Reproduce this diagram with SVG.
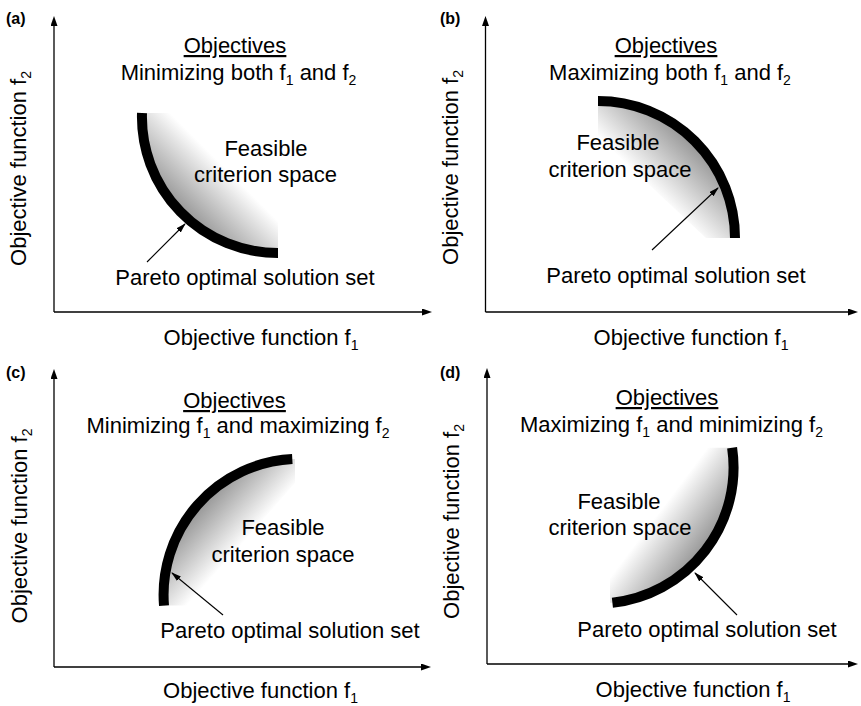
<svg xmlns="http://www.w3.org/2000/svg" width="861" height="706" viewBox="0 0 861 706">
<style>
text{font-family:"Liberation Sans",Arial,sans-serif;fill:#000}
.t{font-size:22px;text-anchor:middle}
.lbl{font-size:16px;font-weight:bold}
.u{text-decoration:underline}
.ax{stroke:#000;stroke-width:1.3;fill:none}
.ptr{stroke:#000;stroke-width:1.1;fill:none}
.band{stroke:#000;stroke-width:10;fill:none;stroke-linecap:butt}
</style>
<defs>
<marker id="axh" markerUnits="userSpaceOnUse" markerWidth="11" markerHeight="8" refX="1" refY="3.5" orient="auto"><path d="M0,0 L10,3.5 L0,7 Z" fill="#000"/></marker>
<marker id="ph" markerUnits="userSpaceOnUse" markerWidth="11" markerHeight="8" refX="9" refY="3" orient="auto"><path d="M0,0 L10,3 L0,6 Z" fill="#000"/></marker>
<linearGradient id="ga" gradientUnits="userSpaceOnUse" x1="185" y1="210" x2="226" y2="169"><stop offset="0" stop-color="#9c9c9c"/><stop offset="1" stop-color="#fff"/></linearGradient>
<linearGradient id="gb" gradientUnits="userSpaceOnUse" x1="691" y1="145" x2="649" y2="187"><stop offset="0" stop-color="#9c9c9c"/><stop offset="1" stop-color="#fff"/></linearGradient>
<linearGradient id="gc" gradientUnits="userSpaceOnUse" x1="201" y1="509" x2="241" y2="545"><stop offset="0" stop-color="#9c9c9c"/><stop offset="1" stop-color="#fff"/></linearGradient>
<linearGradient id="gd" gradientUnits="userSpaceOnUse" x1="701" y1="548" x2="657" y2="515"><stop offset="0" stop-color="#9c9c9c"/><stop offset="1" stop-color="#fff"/></linearGradient>
</defs>
<rect width="861" height="706" fill="#fff"/>

<g id="axes">
<path class="ax" d="M54,312 V25" marker-end="url(#axh)"/>
<path class="ax" d="M54,312 H423" marker-end="url(#axh)"/>
<path class="ax" d="M485.5,312 V25" marker-end="url(#axh)"/>
<path class="ax" d="M485.5,312 H849" marker-end="url(#axh)"/>
<path class="ax" d="M54,667 V378" marker-end="url(#axh)"/>
<path class="ax" d="M54,667 H422" marker-end="url(#axh)"/>
<path class="ax" d="M487,664 V377" marker-end="url(#axh)"/>
<path class="ax" d="M487,664 H849" marker-end="url(#axh)"/>
</g>

<g id="panel-a">
<text class="lbl" x="6" y="24">(a)</text>
<path d="M142,113 L170,113 L278,218 L278,253 A136,136 0 0 1 142,113 Z" fill="url(#ga)"/>
<path class="band" d="M142,113 A136,136 0 0 0 278,253"/>
<text class="t u" x="235" y="53">Objectives</text>
<text class="t" x="238.5" y="80">Minimizing both f<tspan dy="5" font-size="14">1</tspan><tspan dy="-5"> and f</tspan><tspan dy="5" font-size="14">2</tspan></text>
<text class="t" x="266" y="156">Feasible</text>
<text class="t" x="265.5" y="182">criterion space</text>
<text class="t" x="245" y="285">Pareto optimal solution set</text>
<text class="t" x="261" y="345">Objective function f<tspan dy="5" font-size="14">1</tspan></text>
<text class="t" x="26" y="168.5" transform="rotate(-90 26 168.5)">Objective function f<tspan dy="5" font-size="14">2</tspan></text>
</g>

<g id="panel-b">
<text class="lbl" x="440" y="24">(b)</text>
<path d="M598,101 A137,137 0 0 1 735,238 L706,238 L598,137 Z" fill="url(#gb)"/>
<path class="band" d="M598,101 A137,137 0 0 1 735,238"/>
<text class="t u" x="666" y="53">Objectives</text>
<text class="t" x="670" y="80">Maximizing both f<tspan dy="5" font-size="14">1</tspan><tspan dy="-5"> and f</tspan><tspan dy="5" font-size="14">2</tspan></text>
<text class="t" x="618" y="150">Feasible</text>
<text class="t" x="620" y="176.5">criterion space</text>
<text class="t" x="676" y="283">Pareto optimal solution set</text>
<text class="t" x="691" y="345">Objective function f<tspan dy="5" font-size="14">1</tspan></text>
<text class="t" x="458" y="167.5" transform="rotate(-90 458 167.5)">Objective function f<tspan dy="5" font-size="14">2</tspan></text>
</g>

<g id="panel-c">
<text class="lbl" x="6" y="378">(c)</text>
<path d="M164,605.6 A136,136 0 0 1 292.3,459 L295,459 L295,483 L188,605.6 Z" fill="url(#gc)"/>
<path class="band" d="M164,605.6 A136,136 0 0 1 292.3,459"/>
<text class="t u" x="234.5" y="408">Objectives</text>
<text class="t" x="238" y="433">Minimizing f<tspan dy="5" font-size="14">1</tspan><tspan dy="-5"> and maximizing f</tspan><tspan dy="5" font-size="14">2</tspan></text>
<text class="t" x="283" y="535">Feasible</text>
<text class="t" x="283" y="562">criterion space</text>
<text class="t" x="290" y="638">Pareto optimal solution set</text>
<text class="t" x="260.5" y="698">Objective function f<tspan dy="5" font-size="14">1</tspan></text>
<text class="t" x="27" y="526" transform="rotate(-90 27 526)">Objective function f<tspan dy="5" font-size="14">2</tspan></text>
</g>

<g id="panel-d">
<text class="lbl" x="440" y="378">(d)</text>
<path d="M732.1,447.7 A136,136 0 0 1 612.4,602.7 L610,602.7 L610,577 L707,447.7 Z" fill="url(#gd)"/>
<path class="band" d="M732.1,447.7 A136,136 0 0 1 612.4,602.7"/>
<text class="t u" x="667" y="405">Objectives</text>
<text class="t" x="671.5" y="432">Maximizing f<tspan dy="5" font-size="14">1</tspan><tspan dy="-5"> and minimizing f</tspan><tspan dy="5" font-size="14">2</tspan></text>
<text class="t" x="619" y="509">Feasible</text>
<text class="t" x="620" y="535">criterion space</text>
<text class="t" x="707" y="637">Pareto optimal solution set</text>
<text class="t" x="693" y="697">Objective function f<tspan dy="5" font-size="14">1</tspan></text>
<text class="t" x="459" y="521.5" transform="rotate(-90 459 521.5)">Objective function f<tspan dy="5" font-size="14">2</tspan></text>
</g>

<g id="connectors">
<path class="ptr" d="M147,262 L185,224" marker-end="url(#ph)"/>
<path class="ptr" d="M652,250 L718,188" marker-end="url(#ph)"/>
<path class="ptr" d="M223,615 L172,573" marker-end="url(#ph)"/>
<path class="ptr" d="M737,615 L695,573" marker-end="url(#ph)"/>
</g>
</svg>
